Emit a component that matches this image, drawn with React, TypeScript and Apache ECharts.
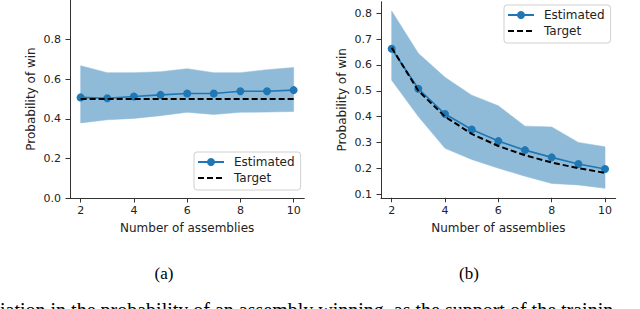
import { useEffect, useRef } from "react";
import * as echarts from "echarts";

// ---- data ----
const assemblies = [2, 3, 4, 5, 6, 7, 8, 9, 10];

// panel (a)
const estimatedA = [0.508, 0.504, 0.513, 0.521, 0.528, 0.528, 0.539, 0.539, 0.545];
const targetA = [0.5, 0.5, 0.5, 0.5, 0.5, 0.5, 0.5, 0.5, 0.5];
const upperA = [0.668, 0.633, 0.633, 0.638, 0.653, 0.633, 0.633, 0.648, 0.659];
const lowerA = [0.379, 0.395, 0.402, 0.416, 0.433, 0.422, 0.433, 0.434, 0.437];

// panel (b)
const estimatedB = [0.663, 0.508, 0.41, 0.35, 0.305, 0.27, 0.242, 0.216, 0.197];
const targetB = [0.667, 0.5, 0.4, 0.333, 0.286, 0.25, 0.222, 0.2, 0.182];
const upperB = [0.809, 0.645, 0.552, 0.483, 0.442, 0.363, 0.36, 0.3, 0.283];
const lowerB = [0.541, 0.4, 0.277, 0.234, 0.2, 0.169, 0.141, 0.135, 0.122];

const xTicks = [2, 4, 6, 8, 10];
const yTicksA = [0.0, 0.2, 0.4, 0.6, 0.8];
const yTicksB = [0.1, 0.2, 0.3, 0.4, 0.5, 0.6, 0.7, 0.8];

const xName = "Number of assemblies";
const yName = "Probability of win";
const legendNames = ["Estimated", "Target"];
const captions = ["(a)", "(b)"];
const bodyText =
  "iation in the probability of an assembly winning, as the support of the trainin";

// ---- styles ----
const FONT = "DejaVu Sans";
const AXIS_COLOR = "#333";
const BLUE = "#1f77b4";
const BAND = "#8fbbd9";

function pairs(ys: number[]) {
  return assemblies.map((x, i) => [x, ys[i]]);
}

function bandSeries(idx: number, upper: number[], lower: number[]) {
  return {
    type: "custom",
    name: "band" + idx,
    xAxisIndex: idx,
    yAxisIndex: idx,
    silent: true,
    z: 1,
    data: [[assemblies[0], upper[0]]],
    renderItem: (_p: any, api: any) => {
      const pts: number[][] = [];
      assemblies.forEach((x, i) => pts.push(api.coord([x, upper[i]])));
      for (let i = assemblies.length - 1; i >= 0; i--) {
        pts.push(api.coord([assemblies[i], lower[i]]));
      }
      return {
        type: "polygon",
        shape: { points: pts },
        style: { fill: BAND, stroke: BAND, lineWidth: 0.5 },
      };
    },
  };
}

function estSeries(idx: number, ys: number[]) {
  return {
    type: "line",
    name: legendNames[0],
    xAxisIndex: idx,
    yAxisIndex: idx,
    data: pairs(ys),
    symbol: "circle",
    symbolSize: 8,
    showSymbol: true,
    z: 3,
    lineStyle: { color: BLUE, width: 1.6 },
    itemStyle: { color: BLUE },
  };
}

function targetSeries(idx: number, ys: number[]) {
  return {
    type: "line",
    name: legendNames[1],
    xAxisIndex: idx,
    yAxisIndex: idx,
    data: pairs(ys),
    symbol: "none",
    z: 4,
    lineStyle: { color: "#000", width: 2, type: [6, 3] },
    itemStyle: { color: "#000" },
  };
}

function xAxis(idx: number) {
  return {
    type: "value",
    gridIndex: idx,
    min: 1.6,
    max: 10.4,
    name: xName,
    nameLocation: "middle",
    nameGap: 24,
    nameTextStyle: { fontFamily: FONT, fontSize: 12, color: "#222" },
    axisLine: { show: true, lineStyle: { color: AXIS_COLOR, width: 1 } },
    axisTick: {
      show: true,
      length: 4.5,
      customValues: xTicks,
      lineStyle: { color: AXIS_COLOR, width: 1 },
    },
    axisLabel: {
      customValues: xTicks,
      margin: 7,
      fontFamily: FONT,
      fontSize: 11,
      color: "#222",
    },
    splitLine: { show: false },
  };
}

function yAxis(idx: number, min: number, max: number, ticks: number[]) {
  return {
    type: "value",
    gridIndex: idx,
    min,
    max,
    name: yName,
    nameLocation: "middle",
    nameGap: 33,
    nameTextStyle: { fontFamily: FONT, fontSize: 12, color: "#222" },
    axisLine: { show: true, lineStyle: { color: AXIS_COLOR, width: 1 } },
    axisTick: {
      show: true,
      length: 4.5,
      customValues: ticks,
      lineStyle: { color: AXIS_COLOR, width: 1 },
    },
    axisLabel: {
      customValues: ticks,
      margin: 9,
      fontFamily: FONT,
      fontSize: 11,
      color: "#222",
      formatter: (v: number) => v.toFixed(1),
    },
    splitLine: { show: false },
  };
}

function legend(left: number, top: number) {
  return {
    data: [
      { name: legendNames[0] },
      { name: legendNames[1], itemStyle: { opacity: 0, color: "rgba(0,0,0,0)", borderWidth: 0 } },
    ],
    orient: "vertical",
    left,
    top,
    padding: [4, 6, 6, 3],
    itemWidth: 26,
    itemHeight: 10,
    itemGap: 4,
    backgroundColor: "#fff",
    borderColor: "#d0d0d0",
    borderWidth: 1,
    borderRadius: 3,
    selectedMode: false,
    textStyle: { fontFamily: FONT, fontSize: 12, color: "#222", padding: [0, 0, 0, 5] },
  };
}

const option: any = {
  animation: false,
  backgroundColor: "#fff",
  grid: [
    { left: 70, top: -21.5, width: 234.3, height: 219.5 },
    { left: 381, top: 1.75, width: 234.7, height: 196 },
  ],
  xAxis: [xAxis(0), xAxis(1)],
  yAxis: [yAxis(0, 0, 1, yTicksA), yAxis(1, 0.0855, 0.845, yTicksB)],
  legend: [legend(194, 152), legend(504, 5)],
  series: [
    bandSeries(0, upperA, lowerA),
    estSeries(0, estimatedA),
    targetSeries(0, targetA),
    bandSeries(1, upperB, lowerB),
    estSeries(1, estimatedB),
    targetSeries(1, targetB),
  ],
  graphic: [
    {
      type: "text",
      x: 164,
      y: 273.5,
      style: {
        text: captions[0],
        font: '17px "Liberation Serif"',
        fill: "#000",
        align: "center",
        verticalAlign: "middle",
      },
    },
    {
      type: "text",
      x: 469,
      y: 273.5,
      style: {
        text: captions[1],
        font: '17px "Liberation Serif"',
        fill: "#000",
        align: "center",
        verticalAlign: "middle",
      },
    },
    {
      type: "text",
      x: 0,
      y: 300,
      style: {
        text: bodyText,
        font: '20px "Liberation Serif"',
        fill: "#000",
        align: "left",
        verticalAlign: "top",
      },
    },
  ],
};

export default function App() {
  const ref = useRef<HTMLDivElement>(null);
  useEffect(() => {
    document.body.style.margin = "0";
    const chart = echarts.init(ref.current!, undefined, { renderer: "svg" });
    chart.setOption(option);
    return () => chart.dispose();
  }, []);
  return (
    <div
      ref={ref}
      style={{
        width: 640,
        height: 309,
        position: "fixed",
        left: 0,
        top: 0,
        overflow: "hidden",
        background: "#fff",
      }}
    />
  );
}
